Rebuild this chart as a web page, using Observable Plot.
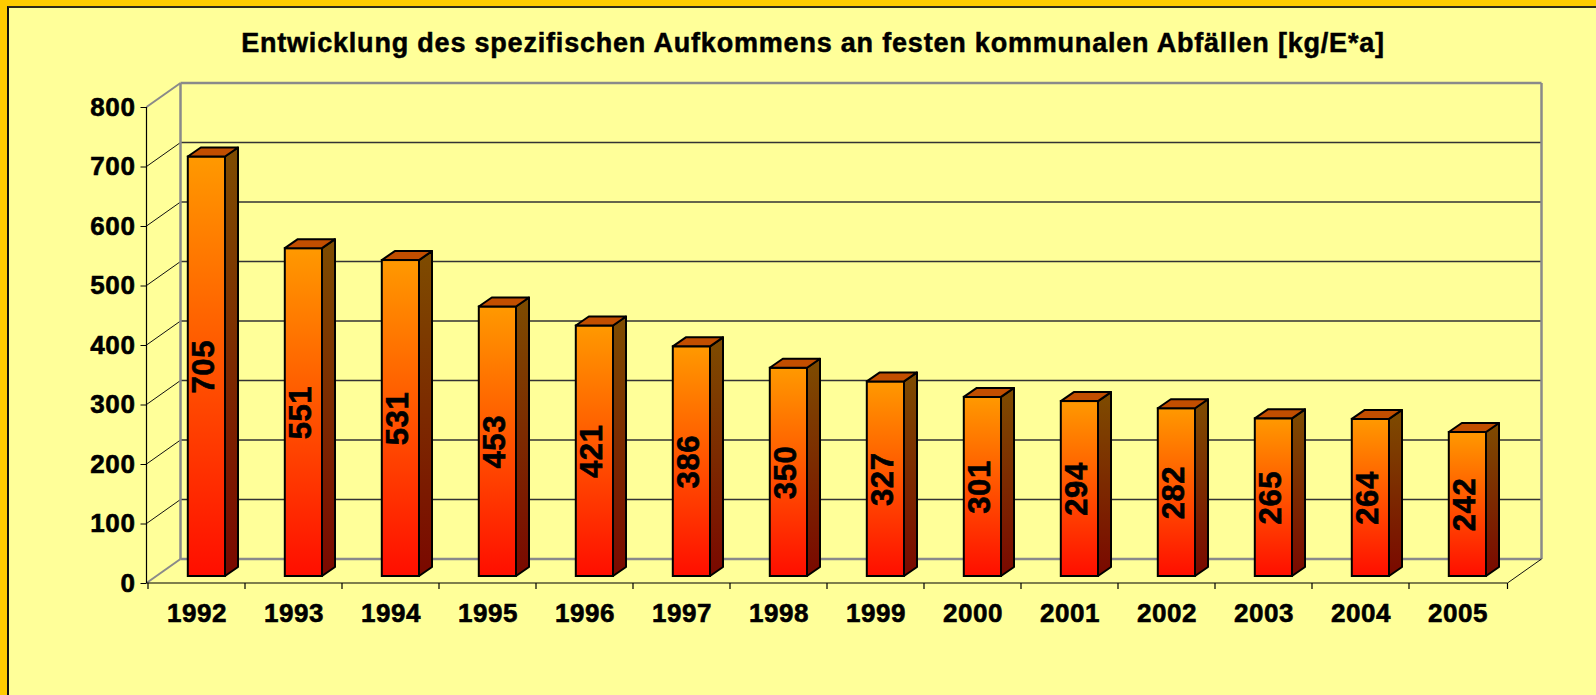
<!DOCTYPE html>
<html><head><meta charset="utf-8">
<script src="https://cdn.jsdelivr.net/npm/d3@7"></script>
<script src="https://cdn.jsdelivr.net/npm/@observablehq/plot@0.6"></script>
<style>
html,body{margin:0;padding:0;background:#FFFF99;overflow:hidden}
#wrap{position:relative;width:1596px;height:695px;background:#FFCC00;font-family:"Liberation Sans",Arial,sans-serif}
#inner{position:absolute;left:7px;top:6px;right:0;bottom:0;background:#FFFF99;border-left:2px solid #111;border-top:2px solid #2e2a1a}
#title{position:absolute;left:813px;top:29.5px;transform:translateX(-50%);white-space:nowrap;font-size:27px;line-height:27px;font-weight:bold;letter-spacing:0.8px;color:#000;-webkit-text-stroke:0.5px #000}
#chart{position:absolute;left:0;top:62px}
#chart text{stroke:#000;stroke-width:0.6px}
</style></head><body>
<div id="wrap"><div id="inner"></div><div id="title"></div><div id="chart"></div></div>
<script>
const titleText = "Entwicklung des spezifischen Aufkommens an festen kommunalen Abfällen [kg/E*a]";
const years = ["1992","1993","1994","1995","1996","1997","1998","1999","2000","2001","2002","2003","2004","2005"];
const values = [705,551,531,453,421,386,350,327,301,294,282,265,264,242];
const yTicks = [0,100,200,300,400,500,600,700,800];

document.getElementById("title").textContent = titleText;

const rows = years.map((year, i) => ({year, value: values[i]}));

// 3D geometry (pixels)
const WX = 34, WY = -24;        // wall depth
const SX = 9.9, SY = -7;        // bar front-face shift into depth
const DX = 13, DY = -9;         // bar depth
const INSET = 29.9;             // bar inset within band

function grad(defs, id, c0, c1) {
  const g = defs.append("linearGradient").attr("id", id).attr("x1", 0).attr("y1", 0).attr("x2", 0).attr("y2", 1);
  g.append("stop").attr("offset", 0).attr("stop-color", c0);
  g.append("stop").attr("offset", 1).attr("stop-color", c1);
}

function walls(index, scales, vals, dims) {
  const {y} = scales;
  const x0 = dims.marginLeft, x1 = dims.width - dims.marginRight;
  const g = d3.create("svg:g").attr("fill", "none");
  const defs = g.append("defs");
  grad(defs, "gFront", "#FF9900", "#FF0E00");
  grad(defs, "gSide", "#7E4C00", "#7A0800");
  const lo = yTicks[0], hi = yTicks[yTicks.length - 1];
  for (const t of yTicks) {
    const edge = t === lo || t === hi;
    const yy = y(t);
    g.append("line").attr("x1", x0 + WX).attr("x2", x1 + WX).attr("y1", yy + WY).attr("y2", yy + WY)
      .attr("stroke", edge ? "#8a8a8a" : "#333").attr("stroke-width", edge ? 2.5 : 1.3);
    g.append("line").attr("x1", x0).attr("x2", x0 + WX).attr("y1", yy).attr("y2", yy + WY)
      .attr("stroke", edge ? "#8a8a8a" : "#111").attr("stroke-width", edge ? 2 : 1);
  }
  for (const xx of [x0 + WX, x1 + WX]) {
    g.append("line").attr("x1", xx).attr("x2", xx).attr("y1", y(lo) + WY).attr("y2", y(hi) + WY)
      .attr("stroke", "#8a8a8a").attr("stroke-width", 2.5);
  }
  g.append("line").attr("x1", x1).attr("x2", x1 + WX).attr("y1", y(lo)).attr("y2", y(lo) + WY)
    .attr("stroke", "#111").attr("stroke-width", 1);
  return g.node();
}

function barSides(index, scales, vals, dims) {
  const {x, y} = scales;
  const bw = x.bandwidth();
  const g = d3.create("svg:g").attr("stroke", "#000").attr("stroke-width", 2).attr("stroke-linejoin", "round");
  for (const r of rows) {
    const xl = x(r.year) + INSET + SX, xr = x(r.year) + bw - INSET + SX;
    const yt = y(r.value) + SY, yb = y(0) + SY;
    g.append("path").attr("fill", "url(#gSide)")
      .attr("d", `M${xr},${yb}L${xr + DX},${yb + DY}L${xr + DX},${yt + DY}L${xr},${yt}Z`);
    g.append("path").attr("fill", "#C24E00")
      .attr("d", `M${xl},${yt}L${xl + DX},${yt + DY}L${xr + DX},${yt + DY}L${xr},${yt}Z`);
  }
  return g.node();
}

function frontAxes(index, scales, vals, dims) {
  const {x, y} = scales;
  const x0 = dims.marginLeft, x1 = dims.width - dims.marginRight;
  const g = d3.create("svg:g").attr("stroke", "#000").attr("stroke-width", 1.2);
  const y0 = y(yTicks[0]);
  g.append("line").attr("x1", x0).attr("x2", x0).attr("y1", y(yTicks[yTicks.length - 1])).attr("y2", y0);
  g.append("line").attr("x1", x0).attr("x2", x1).attr("y1", y0).attr("y2", y0);
  for (const xx of years.map(d => x(d)).concat([x1])) {
    g.append("line").attr("x1", xx).attr("x2", xx).attr("y1", y0).attr("y2", y0 + 6);
  }
  return g.node();
}

const chart = Plot.plot({
  width: 1596,
  height: 633,
  marginLeft: 146.5,
  marginRight: 88.5,
  marginTop: 45,
  marginBottom: 112,
  style: {background: "transparent", fontFamily: "'Liberation Sans', Arial, sans-serif", fontSize: "26px", fontWeight: "bold", color: "#000", overflow: "visible", letterSpacing: "0.6px"},
  x: {type: "band", domain: years, padding: 0, tickSize: 0, tickPadding: 20, label: null},
  y: {domain: [yTicks[0], yTicks[yTicks.length - 1]], ticks: yTicks, tickSize: 6, tickPadding: 5.5, label: null},
  marks: [
    walls,
    Plot.barY(rows, {x: "year", y: "value", fill: "url(#gFront)", stroke: "#000", strokeWidth: 2, insetLeft: INSET, insetRight: INSET, dx: SX, dy: SY}),
    barSides,
    Plot.text(rows, {x: "year", y: d => d.value / 2, text: d => String(d.value), rotate: -90, fontSize: 31, fontWeight: "bold", fill: "#000", dx: SX - 3, dy: SY}),
    frontAxes
  ]
});
document.getElementById("chart").appendChild(chart);
</script>
</body></html>
